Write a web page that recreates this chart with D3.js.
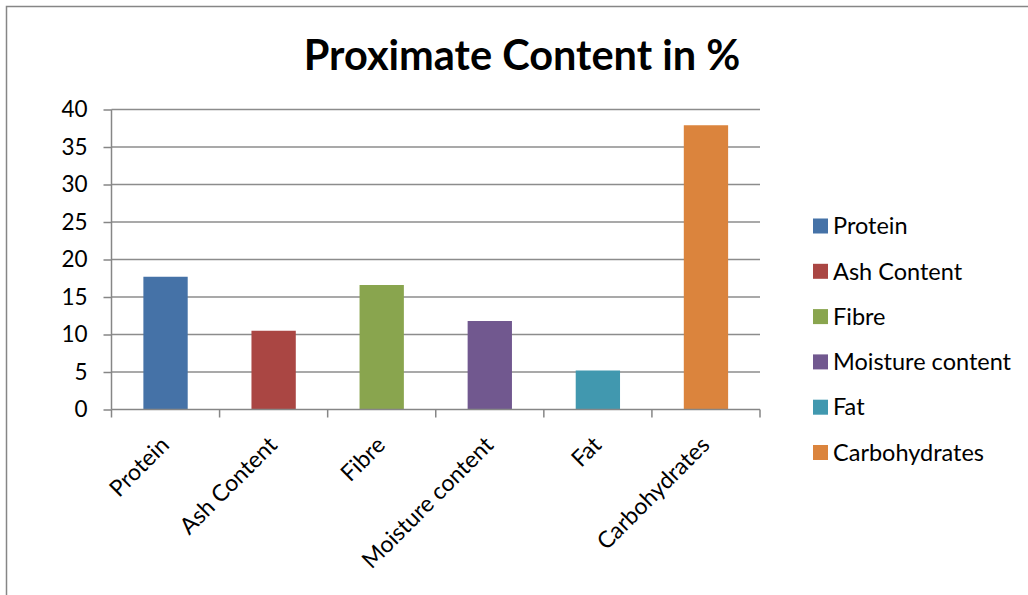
<!DOCTYPE html>
<html>
<head>
<meta charset="utf-8">
<script src="https://cdn.jsdelivr.net/npm/d3@7"></script>
<style>
	body { margin: 0; background: #fff; }
	text { font-family: Lato, "Open Sans", sans-serif; fill: #000; }
</style>
</head>
<body>
<div id="chart"></div>
<script>
// dati
var categories = ["Protein", "Ash Content", "Fibre", "Moisture content", "Fat", "Carbohydrates"]
var values = [17.7, 10.5, 16.6, 11.8, 5.2, 37.9]
var colors = ["#4572a7", "#aa4643", "#89a54e", "#71588f", "#4198af", "#db843d"]
var yTicks = [0, 5, 10, 15, 20, 25, 30, 35, 40]

var W = 1028, H = 595
var plot = {left: 111.5, right: 760, top: 109.5, bottom: 409.5}

var svg = d3.select("#chart").append("svg")
	.attr("width", W)
	.attr("height", H)

// cornice del grafico
svg.append("rect")
	.attr("x", 6.5).attr("y", 6.5)
	.attr("width", W + 20).attr("height", H + 20)
	.style("fill", "none")
	.style("stroke", "#868686")
	.style("stroke-width", 1.5)

svg.append("text")
	.attr("x", 522).attr("y", 70)
	.attr("text-anchor", "middle")
	.style("font-size", "41.5px")
	.style("font-weight", "bold")
	.text("Proximate Content in %")

var x = d3.scaleBand()
	.domain(categories)
	.range([plot.left, plot.right])
	.paddingInner(0.59)
	.paddingOuter(0.295)

var xCat = d3.scaleBand()
	.domain(categories)
	.range([plot.left, plot.right])

var y = d3.scaleLinear()
	.domain([0, 40])
	.range([plot.bottom, plot.top])

// griglia + asse y
var yAxis = svg.append("g")
	.attr("transform", "translate(" + plot.left + ",0)")
	.call(d3.axisLeft(y).tickValues(yTicks).tickSize(8).tickPadding(16).tickFormat(d3.format("d")))
yAxis.select(".domain").remove()
yAxis.selectAll("line").style("stroke", "#868686").style("stroke-width", 1.5)
yAxis.selectAll("text").style("font-size", "22.5px").style("font-family", "Lato, sans-serif")

svg.append("g")
	.selectAll("line")
	.data(yTicks.filter(function(d){ return d > 0 }))
	.enter()
	.append("line")
	.attr("x1", plot.left).attr("x2", plot.right)
	.attr("y1", function(d){ return y(d) })
	.attr("y2", function(d){ return y(d) })
	.style("stroke", "#8c8c8c")
	.style("stroke-width", 1.5)

// barre
svg.append("g")
	.selectAll("rect")
	.data(values)
	.enter()
	.append("rect")
	.attr("x", function(d, i){ return x(categories[i]) })
	.attr("width", x.bandwidth())
	.attr("y", function(d){ return y(d) })
	.attr("height", function(d){ return y(0) - y(d) })
	.style("fill", function(d, i){ return colors[i] })

// asse x
var edges = categories.map(function(c){ return xCat(c) }).concat([plot.right])
svg.append("g")
	.selectAll("line")
	.data(edges)
	.enter()
	.append("line")
	.attr("x1", function(d){ return d }).attr("x2", function(d){ return d })
	.attr("y1", plot.bottom).attr("y2", plot.bottom + 8)
	.style("stroke", "#868686")
	.style("stroke-width", 1.5)

svg.append("line")
	.attr("x1", plot.left).attr("x2", plot.right)
	.attr("y1", plot.bottom).attr("y2", plot.bottom)
	.style("stroke", "#868686").style("stroke-width", 1.5)
svg.append("line")
	.attr("x1", plot.left).attr("x2", plot.left)
	.attr("y1", plot.top).attr("y2", plot.bottom)
	.style("stroke", "#868686").style("stroke-width", 1.5)

svg.append("g")
	.selectAll("text")
	.data(categories)
	.enter()
	.append("text")
	.attr("text-anchor", "end")
	.attr("transform", function(d){
		return "translate(" + (xCat(d) + xCat.bandwidth() / 2 + 5) + "," + (plot.bottom + 37) + ") rotate(-45)"
	})
	.style("font-size", "23px")
	.text(function(d){ return d })

// legenda
var legend = svg.append("g")
	.selectAll("g")
	.data(categories)
	.enter()
	.append("g")
	.attr("transform", function(d, i){ return "translate(813," + (226 + i * 45.3) + ")" })

legend.append("rect")
	.attr("x", 0).attr("y", -7.5)
	.attr("width", 15).attr("height", 15)
	.style("fill", function(d, i){ return colors[i] })

legend.append("text")
	.attr("x", 20).attr("y", 0)
	.attr("dy", "0.35em")
	.style("font-size", "23.5px")
	.text(function(d){ return d })
</script>
</body>
</html>
